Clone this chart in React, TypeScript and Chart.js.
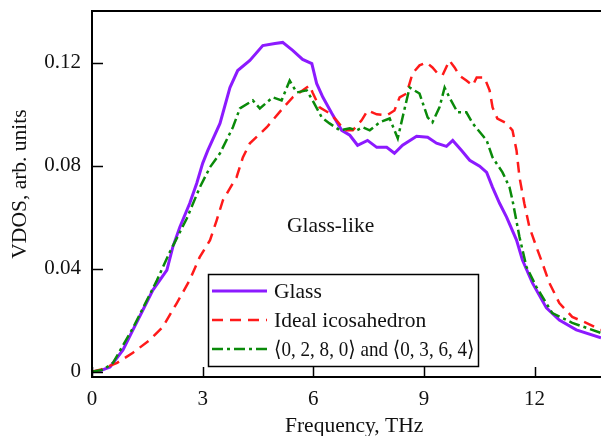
import React, { useEffect, useRef } from "react";
import { Chart, registerables } from "chart.js";

Chart.register(...registerables);

// Frequency (THz) and VDOS (arb. units) for each curve
const glassFreq = [0, 0.22, 0.49, 0.84, 1.11, 1.38, 1.65, 2.03, 2.19, 2.38, 2.65, 2.84, 3.0, 3.14, 3.47, 3.74, 3.95, 4.28, 4.63, 4.96, 5.17, 5.44, 5.71, 5.96, 6.09, 6.26, 6.5, 6.77, 6.99, 7.2, 7.47, 7.72, 7.99, 8.2, 8.42, 8.8, 9.1, 9.34, 9.61, 9.78, 10.02, 10.24, 10.51, 10.7, 10.86, 11.05, 11.24, 11.51, 11.67, 11.94, 12.32, 12.67, 13.13, 13.8];
const glassVdos = [0, 0.0004, 0.0019, 0.0085, 0.0163, 0.024, 0.0317, 0.0395, 0.0484, 0.0561, 0.0654, 0.0732, 0.0809, 0.0859, 0.0964, 0.1103, 0.1169, 0.1208, 0.1266, 0.1274, 0.1278, 0.1247, 0.1212, 0.1196, 0.1119, 0.1065, 0.1003, 0.0937, 0.0918, 0.0879, 0.0898, 0.0871, 0.0871, 0.0848, 0.0879, 0.0914, 0.091, 0.0887, 0.0875, 0.0898, 0.0859, 0.0821, 0.0798, 0.0774, 0.0716, 0.0654, 0.06, 0.0511, 0.0434, 0.0345, 0.0248, 0.0201, 0.0163, 0.0132];

const icoFreq = [0, 0.22, 0.68, 1.11, 1.57, 1.92, 2.3, 2.65, 2.92, 3.2, 3.38, 3.55, 3.82, 3.92, 4.09, 4.28, 4.74, 5.17, 5.44, 5.63, 5.9, 5.98, 6.17, 6.44, 6.63, 6.85, 7.07, 7.31, 7.47, 7.72, 7.99, 8.2, 8.34, 8.53, 8.69, 8.88, 9.07, 9.23, 9.37, 9.5, 9.69, 9.83, 9.96, 10.15, 10.32, 10.43, 10.64, 10.78, 10.86, 10.99, 11.24, 11.4, 11.51, 11.59, 11.72, 11.86, 12.05, 12.21, 12.4, 12.67, 13.02, 13.4, 13.8];
const icoVdos = [0, 0.0008, 0.0035, 0.0074, 0.0124, 0.0174, 0.0267, 0.0356, 0.0445, 0.0511, 0.0588, 0.0666, 0.0732, 0.0755, 0.0832, 0.0887, 0.0949, 0.1022, 0.1065, 0.1084, 0.1111, 0.1084, 0.1026, 0.1003, 0.0976, 0.0937, 0.0937, 0.0976, 0.1014, 0.0999, 0.0995, 0.1014, 0.1065, 0.108, 0.1158, 0.1189, 0.12, 0.1181, 0.1158, 0.115, 0.1208, 0.1181, 0.115, 0.113, 0.1111, 0.1142, 0.1142, 0.1092, 0.1026, 0.0983, 0.0964, 0.0937, 0.0859, 0.0755, 0.0654, 0.0561, 0.0484, 0.0422, 0.0345, 0.0267, 0.0213, 0.019, 0.0163];

const clusterFreq = [0, 0.3, 0.57, 1.11, 1.76, 2.11, 2.57, 2.92, 3.2, 3.47, 3.82, 4.01, 4.36, 4.55, 4.9, 5.14, 5.36, 5.55, 5.82, 5.98, 6.23, 6.44, 6.72, 6.99, 7.18, 7.34, 7.53, 7.8, 8.07, 8.29, 8.42, 8.61, 8.88, 9.1, 9.23, 9.42, 9.56, 9.69, 9.91, 10.15, 10.32, 10.7, 10.86, 11.13, 11.32, 11.4, 11.59, 11.78, 12.05, 12.48, 13.02, 13.8];
const clusterVdos = [0, 0.0008, 0.0035, 0.017, 0.0355, 0.0465, 0.0595, 0.0715, 0.0794, 0.0848, 0.0949, 0.1022, 0.1053, 0.1022, 0.1065, 0.1053, 0.113, 0.1084, 0.1092, 0.1053, 0.0987, 0.0964, 0.0937, 0.0945, 0.0937, 0.0949, 0.0937, 0.0968, 0.0983, 0.0906, 0.0987, 0.1103, 0.108, 0.0987, 0.0968, 0.1026, 0.1103, 0.1065, 0.1007, 0.1007, 0.0964, 0.0898, 0.0832, 0.0774, 0.0716, 0.0666, 0.0523, 0.0407, 0.0329, 0.0228, 0.019, 0.0151];

const seriesLabels = ["Glass", "Ideal icosahedron", "\u27E80, 2, 8, 0\u27E9 and \u27E80, 3, 6, 4\u27E9"];
const xTicks = [0, 3, 6, 9, 12];
const xTickLabels = ["0", "3", "6", "9", "12"];
const yTicks = [0, 0.04, 0.08, 0.12];
const yTickLabels = ["0", "0.04", "0.08", "0.12"];
const xTitle = "Frequency, THz";
const yTitle = "VDOS, arb. units";
const noteText = "Glass-like";

const FONT = "'Liberation Serif', 'DejaVu Serif', serif";
const COLORS = ["#8c1aff", "#ff1a1a", "#0a8a0a"];
const WIDTHS = [3, 2.5, 2.5];
const DASHES: number[][] = [[], [11, 7], [11, 4, 3, 4]];

const toPoints = (xs: number[], ys: number[]) => xs.map((x, i) => ({ x, y: ys[i] }));

const decorPlugin = {
  id: "decor",
  afterDraw(chart: any) {
    const { ctx, chartArea } = chart;
    const { left, top, right, bottom } = chartArea;
    const xs = chart.scales.x;
    const ys = chart.scales.y;
    ctx.save();

    // frame: top, left, bottom
    ctx.strokeStyle = "#000";
    ctx.lineWidth = 2;
    ctx.setLineDash([]);
    ctx.beginPath();
    ctx.moveTo(right, top);
    ctx.lineTo(left, top);
    ctx.lineTo(left, bottom);
    ctx.lineTo(right, bottom);
    ctx.stroke();

    // inward tick marks
    ctx.lineWidth = 1.5;
    ctx.beginPath();
    xTicks.forEach((v) => {
      const px = Math.round(xs.getPixelForValue(v)) + 0.5;
      ctx.moveTo(px, bottom);
      ctx.lineTo(px, bottom - 10);
    });
    yTicks.forEach((v) => {
      const py = Math.round(ys.getPixelForValue(v)) + 0.5;
      ctx.moveTo(left, py);
      ctx.lineTo(left + 11, py);
    });
    ctx.stroke();

    // axis titles
    ctx.fillStyle = "#111";
    ctx.font = `21.5px ${FONT}`;
    ctx.textBaseline = "alphabetic";
    ctx.textAlign = "left";
    ctx.fillText(xTitle, 285, 432);
    ctx.save();
    ctx.translate(26, 184);
    ctx.rotate(-Math.PI / 2);
    ctx.textAlign = "center";
    ctx.fillText(yTitle, 0, 0);
    ctx.restore();

    // annotation
    ctx.textAlign = "left";
    ctx.fillText(noteText, 287, 232);

    // legend box
    const bx = 208.5, by = 274.5, bw = 270, bh = 92;
    ctx.fillStyle = "#fff";
    ctx.fillRect(bx, by, bw, bh);
    ctx.strokeStyle = "#000";
    ctx.lineWidth = 1.5;
    ctx.strokeRect(bx, by, bw, bh);
    const rows = [291, 320, 349];
    const textLeft = 274;
    const textMax = bx + bw - 4 - textLeft;
    seriesLabels.forEach((label, i) => {
      ctx.strokeStyle = COLORS[i];
      ctx.lineWidth = WIDTHS[i];
      ctx.setLineDash(DASHES[i]);
      ctx.beginPath();
      ctx.moveTo(212, rows[i]);
      ctx.lineTo(267, rows[i]);
      ctx.stroke();
      ctx.setLineDash([]);
      ctx.fillStyle = "#111";
      ctx.fillText(label, textLeft, rows[i] + 7, textMax);
    });
    ctx.restore();
  },
};

export default function App() {
  const canvasRef = useRef<HTMLCanvasElement | null>(null);

  useEffect(() => {
    if (!canvasRef.current) return;
    const datasets = [
      toPoints(glassFreq, glassVdos),
      toPoints(icoFreq, icoVdos),
      toPoints(clusterFreq, clusterVdos),
    ].map((data, i) => ({
      label: seriesLabels[i],
      data,
      borderColor: COLORS[i],
      borderWidth: WIDTHS[i],
      borderDash: DASHES[i],
      pointRadius: 0,
      tension: 0,
      fill: false,
    }));
    // draw the glass curve on top
    datasets.reverse();

    const chart = new Chart(canvasRef.current, {
      type: "line",
      data: { datasets },
      options: {
        animation: false,
        responsive: false,
        devicePixelRatio: 1,
        layout: { padding: { top: 11, right: 0, left: 0, bottom: 0 } },
        plugins: { legend: { display: false }, tooltip: { enabled: false } },
        scales: {
          x: {
            type: "linear",
            min: 0,
            max: 13.8,
            grid: { display: false, drawTicks: false },
            border: { display: false },
            afterBuildTicks: (s: any) => {
              s.ticks = xTicks.map((v) => ({ value: v }));
            },
            afterFit: (s: any) => {
              s.height = 59;
              s.paddingLeft = 0;
              s.paddingRight = 0;
            },
            ticks: {
              padding: 10,
              color: "#111",
              font: { family: FONT, size: 21 },
              maxRotation: 0,
              callback: (v: any) => xTickLabels[xTicks.indexOf(Number(v))] ?? "",
            },
          },
          y: {
            type: "linear",
            min: -0.002,
            max: 0.14,
            grid: { display: false, drawTicks: false },
            border: { display: false },
            afterBuildTicks: (s: any) => {
              s.ticks = yTicks.map((v) => ({ value: v }));
            },
            afterFit: (s: any) => {
              s.width = 92;
              s.paddingTop = 0;
              s.paddingBottom = 0;
            },
            ticks: {
              padding: 11,
              color: "#111",
              font: { family: FONT, size: 21 },
              callback: (v: any) => {
                const idx = yTicks.findIndex((t) => Math.abs(t - Number(v)) < 1e-9);
                return idx >= 0 ? yTickLabels[idx] : "";
              },
            },
          },
        },
      },
      plugins: [decorPlugin],
    });
    return () => chart.destroy();
  }, []);

  return (
    <div style={{ position: "absolute", left: 0, top: 0, width: 601, height: 436, background: "#fff" }}>
      <canvas ref={canvasRef} width={601} height={436} style={{ display: "block" }} />
    </div>
  );
}
